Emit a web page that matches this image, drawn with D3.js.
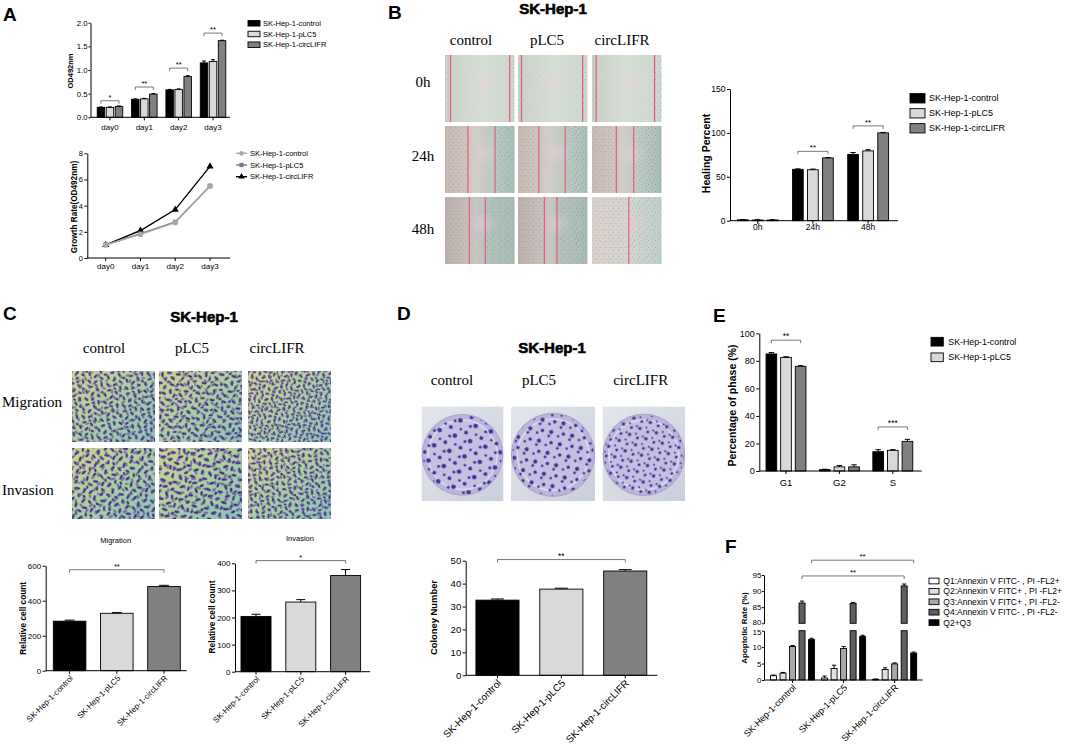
<!DOCTYPE html>
<html><head><meta charset="utf-8">
<script src="https://cdn.jsdelivr.net/npm/d3@7"></script>
<style>
body{margin:0;background:#fff;}
svg{display:block;}
</style></head><body>
<svg id="fig" width="1065" height="746"></svg>
<script>
// ---------------- DATA ----------------
const groups = ["SK-Hep-1-control","SK-Hep-1-pLC5","SK-Hep-1-circLIFR"];
const photoCols = ["control","pLC5","circLIFR"];
const days = ["day0","day1","day2","day3"];
const odControl   = [0.21,0.38,0.58,1.15];
const odPLC5      = [0.21,0.39,0.59,1.18];
const odCircLIFR  = [0.23,0.49,0.86,1.62];
const odErrControl  = [0.01,0.01,0.01,0.04];
const odErrPLC5     = [0.01,0.01,0.01,0.04];
const odErrCircLIFR = [0.01,0.01,0.02,0.01];
const odSig = ["*","**","**","**"];
const odTicks = [0,0.5,1.0,1.5,2.0];
const growthControl  = [1,1.8,2.7,5.5];
const growthPLC5     = [1,1.85,2.75,5.5];
const growthCircLIFR = [1,2.1,3.7,7.0];
const growthTicks = [0,2,4,6,8];
const healTimes = ["0h","24h","48h"];
const healControl  = [1,58.5,75.5];
const healPLC5     = [0.8,58,79.5];
const healCircLIFR = [0.8,71.5,100];
const healErrControl  = [0.3,0.5,2.2];
const healErrPLC5     = [0.3,0.8,1.3];
const healErrCircLIFR = [0.3,0.5,0.5];
const healSig = ["","**","**"];
const healTicks = [0,50,100,150];
const woundRows = ["0h","24h","48h"];
const transwellRows = ["Migration","Invasion"];
const migrationCount = [283,328,481];
const migrationErr   = [6,4,7];
const migrationTicks = [0,200,400,600];
const invasionCount = [204,257,355];
const invasionErr   = [8,9,22];
const invasionTicks = [0,100,200,300,400];
const colonyNumber = [32.8,37.6,45.5];
const colonyErr    = [0.5,0.4,0.6];
const colonyTicks  = [0,10,20,30,40,50];
const phases = ["G1","G2","S"];
const phaseControl  = [85,1,14];
const phasePLC5     = [82.5,3,15];
const phaseCircLIFR = [76,3,21.5];
const phaseErrControl  = [1,0.3,1.5];
const phaseErrPLC5     = [0.5,1,0.5];
const phaseErrCircLIFR = [0.5,1.5,1.5];
const phaseSig = ["**","","***"];
const phaseLegend = ["SK-Hep-1-control","SK-Hep-1-pLC5"];
const phaseTicks = [0,20,40,60,80,100];
const quadrants = ["Q1:Annexin V FITC- , PI -FL2+","Q2:Annexin V FITC+ , PI -FL2+","Q3:Annexin V FITC+ , PI -FL2-","Q4:Annexin V FITC- , PI -FL2-","Q2+Q3"];
const apoControl  = [1.3,2.1,10.2,86.3,12.3];
const apoPLC5     = [0.6,3.5,9.6,86.2,13.2];
const apoCircLIFR = [0.2,3.2,4.9,91.6,8.2];
const apoErrControl  = [0.2,0.2,0.3,0.6,0.4];
const apoErrPLC5     = [0.6,1.0,0.6,0.3,0.4];
const apoErrCircLIFR = [0.1,0.5,0.3,0.6,0.3];
const apoTicksLow = [0,5,10,15];
const apoTicksHigh = [80,85,90,95];

// ---------------- STYLE ----------------
const FONT = '"Liberation Sans", Arial, Helvetica, sans-serif';
const SERIF = '"Liberation Serif", "Times New Roman", serif';
const COL3 = ["#000000","#d9d9d9","#808080"];
const COLQ = ["#ffffff","#e0e0e0","#a8a8a8","#5e5e5e","#000000"];

const svg = d3.select("#fig");
const defs = svg.append("defs");
svg.append("rect").attr("width",1065).attr("height",746).attr("fill","#fff");

function txt(g, x, y, s, o={}) {
  const t = g.append("text").attr("x",x).attr("y",y).text(s)
    .attr("font-size", o.size||9).attr("text-anchor", o.anchor||"start")
    .attr("font-family", o.family||FONT).attr("font-weight", o.weight||"normal")
    .attr("fill", o.fill||"#000");
  if (o.rotate!=null) t.attr("transform",`rotate(${o.rotate},${x},${y})`);
  if (o.baseline) t.attr("dominant-baseline", o.baseline);
  if (o.dy) t.attr("dy", o.dy);
  if (o.stroke) t.attr("stroke","#000").attr("stroke-width",o.stroke);
  return t;
}
function yAxis(g, y, x, ticks, fmt, size, ts, tp) {
  const ax = d3.axisLeft(y).tickValues(ticks).tickFormat(fmt).tickSize(ts==null?3:ts).tickSizeOuter(0).tickPadding(tp==null?1.5:tp);
  const a = g.append("g").attr("transform",`translate(${x},0)`).call(ax);
  a.selectAll("text").attr("font-size",size).attr("font-family",FONT).attr("fill","#000");
  a.selectAll("line,path").attr("stroke","#000").attr("stroke-width",1);
  return a;
}
function xAxis(g, x1, x2, yPos, centers, labels, o) {
  g.append("line").attr("x1",x1).attr("x2",x2).attr("y1",yPos).attr("y2",yPos).attr("stroke","#000").attr("stroke-width",1);
  centers.forEach((c,i)=>{
    g.append("line").attr("x1",c).attr("x2",c).attr("y1",yPos).attr("y2",yPos+3).attr("stroke","#000");
    if (o.rotate) txt(g, c+o.dx, yPos+o.dy, labels[i], {size:o.size, anchor:"end", rotate:-45, dy:"0.35em"});
    else txt(g, c, yPos+o.dy, labels[i], {size:o.size, anchor:"middle"});
  });
}
function yLabel(g, x, y, s, size) {
  txt(g, x, y, s, {size, weight:"bold", anchor:"middle", rotate:-90, baseline:"central"});
}
function bracket(g, xa, xb, yb, label, size) {
  if (!label) return;
  g.append("path").attr("d",`M${xa},${yb+3}V${yb}H${xb}V${yb+3}`)
    .attr("fill","none").attr("stroke","#555").attr("stroke-width",0.8);
  txt(g, (xa+xb)/2, yb-1, label, {size, anchor:"middle"});
}
function bar(g, x, w, yTop, yBot, fill) {
  g.append("rect").attr("x",x).attr("y",yTop).attr("width",w).attr("height",Math.max(0,yBot-yTop))
    .attr("fill",fill).attr("stroke","#000").attr("stroke-width",0.9);
}
function err(g, cx, w, yv, ye) {
  g.append("line").attr("x1",cx).attr("x2",cx).attr("y1",yv).attr("y2",ye).attr("stroke","#000").attr("stroke-width",1);
  g.append("line").attr("x1",cx-w/2).attr("x2",cx+w/2).attr("y1",ye).attr("y2",ye).attr("stroke","#000").attr("stroke-width",1);
}
function grouped(g, cats, vals, errs, colors, x0, x1, y) {
  vals.forEach((series, s) => {
    series.forEach((v,i) => {
      const x = x0(cats[i]) + x1(s), w = x1.bandwidth();
      bar(g, x, w, y(v), y(0), colors[s]);
      err(g, x+w/2, w*0.5, y(v), y(v+errs[s][i]));
    });
  });
}
function simpleBars(g, cats, vals, errs, colors, x, y) {
  vals.forEach((v,i)=>{
    const w = x.bandwidth(), xx = x(cats[i]);
    bar(g, xx, w, y(v), y(0), colors[i]);
    err(g, xx+w/2, w*0.3, y(v), y(v+errs[i]));
  });
}
function legendBoxes(g, x, y0, dy, w, h, labels, colors, size, tx) {
  labels.forEach((l,i)=>{
    const cy = y0 + i*dy;
    g.append("rect").attr("x",x).attr("y",cy-h/2).attr("width",w).attr("height",h)
      .attr("fill",colors[i]).attr("stroke","#000").attr("stroke-width",0.9);
    txt(g, tx, cy, l, {size, baseline:"central"});
  });
}
function panelLetter(x, y, s) { txt(svg, x, y, s, {size:19, weight:"bold"}); }
function title(x, y, s) { txt(svg, x, y, s, {size:15, weight:"bold", anchor:"middle", stroke:0.6}); }

// ---------------- PHOTO TEXTURES ----------------
function pattern(id, w, h, items, fill, op, tf) {
  const p = defs.append("pattern").attr("id",id).attr("width",w).attr("height",h).attr("patternUnits","userSpaceOnUse");
  if (tf) p.attr("patternTransform", tf);
  items.forEach(([cx,cy,rx,ry,a])=>{
    p.append("ellipse").attr("cx",cx).attr("cy",cy).attr("rx",rx).attr("ry",ry)
      .attr("transform",`rotate(${a||0},${cx},${cy})`).attr("fill",fill).attr("opacity",op);
  });
}
pattern("speck", 7, 7, [[1,1,0.6,0.6],[4.5,2.5,0.5,0.5],[2.5,5,0.7,0.6],[6,6,0.4,0.4]], "#5f7266", 0.8);
pattern("speck2", 5, 6, [[1,1.5,0.7,0.6],[3.5,4,0.6,0.6],[4,1,0.4,0.4]], "#6d6f8a", 0.8);
const cellItems = [[3,3,2.4,1.1,30],[9,2,2,1,-40],[15,4,2.5,1.1,70],[5,8,2.2,1,-20],[12,9,2.4,1.1,45],[17,11,2,1,0],[2,13,2.2,1.1,60],[8,14,2.5,1.1,-60],[14,15,2,1,20],[10,5.5,1.6,0.9,10]];
const cellItems2 = [[2,6,2,0.9,-30],[8,3,2.2,1,50],[12,9,2,1,10],[5,11,2.2,1,80],[13,1.5,1.6,0.8,-70]];
[["cellsA","rotate(10) scale(1.05)"],["cellsB","rotate(-25) scale(1.1)"],["cellsC","rotate(40) scale(0.9)"],
 ["cellsD","rotate(70) scale(1.15)"],["cellsE","rotate(-50) scale(1.2)"],["cellsF","rotate(15) scale(1.0)"]].forEach(([id,tf])=>{
  pattern(id, 18, 17, cellItems, "#3e2488", 0.95, tf);
  pattern(id+"2", 15, 13, cellItems2, "#6b3aa8", 0.9, tf);
});
const dotItems = [[2,3,1.4,1.4],[7,8,1.7,1.7],[9.5,2,1.0,1.0],[3.5,9.5,1.1,1.1]];
[["dotsA","scale(1.35) rotate(20)"],["dotsB","scale(1.25) rotate(-35)"],["dotsC","scale(1.0) rotate(60)"]].forEach(([id,tf])=>{
  pattern(id, 12, 12, dotItems, "#2f2f92", 0.95, tf);
});
function lingrad(id, stops, x2, y2) {
  const gr = defs.append("linearGradient").attr("id",id).attr("x1",0).attr("y1",0).attr("x2",x2==null?1:x2).attr("y2",y2||0);
  stops.forEach(([o,c])=>gr.append("stop").attr("offset",o).attr("stop-color",c));
}
lingrad("wg0", [[0,"#c9d1c8"],[0.5,"#d6ddd4"],[1,"#cdd8d1"]]);
lingrad("wg1", [[0,"#c9bab2"],[0.45,"#d2cdc8"],[0.7,"#bccac4"],[1,"#a9bdb8"]]);
lingrad("wg2", [[0,"#bfb0ab"],[0.45,"#c9c6c2"],[0.6,"#b4c2bd"],[1,"#a7bbb5"]]);
lingrad("wg3", [[0,"#ddd2cd"],[0.5,"#d6d6d2"],[1,"#bdd0cb"]]);
lingrad("twg", [[0,"#cdd58e"],[0.5,"#a8d0a0"],[1,"#8ac6b2"]], 1, 1);
lingrad("plate", [[0,"#e3e6ec"],[1,"#c9cfdb"]], 1, 1);
const glow = defs.append("radialGradient").attr("id","glow");
glow.append("stop").attr("offset",0).attr("stop-color","#e9cfe0").attr("stop-opacity",0.45);
glow.append("stop").attr("offset",1).attr("stop-color","#e9cfe0").attr("stop-opacity",0);

function woundPhoto(x, y, w, h, lines, grad) {
  const g = svg.append("g");
  g.append("rect").attr("x",x).attr("y",y).attr("width",w).attr("height",h).attr("fill",`url(#${grad})`);
  g.append("rect").attr("x",x).attr("y",y).attr("width",w).attr("height",h).attr("fill","url(#speck)").attr("opacity",0.15);
  const a = x + lines[0]*w, b = x + lines[lines.length-1]*w;
  g.append("rect").attr("x",x).attr("y",y).attr("width",a-x).attr("height",h).attr("fill","url(#speck2)").attr("opacity",0.45);
  g.append("rect").attr("x",b).attr("y",y).attr("width",x+w-b).attr("height",h).attr("fill","url(#speck)").attr("opacity",lines.length>1?0.55:0.4);
  g.append("ellipse").attr("cx",x+w*0.55).attr("cy",y+h*0.4).attr("rx",w*0.22).attr("ry",h*0.2).attr("fill","url(#glow)");
  lines.forEach(f=>g.append("line").attr("x1",x+f*w).attr("x2",x+f*w).attr("y1",y).attr("y2",y+h).attr("stroke","#ec5a73").attr("stroke-width",1.2));
}
function transwellPhoto(x, y, w, h, pid, dense) {
  const g = svg.append("g");
  g.append("rect").attr("x",x).attr("y",y).attr("width",w).attr("height",h).attr("fill","url(#twg)");
  g.append("rect").attr("x",x).attr("y",y).attr("width",w).attr("height",h).attr("fill",`url(#${pid})`);
  g.append("rect").attr("x",x).attr("y",y).attr("width",w).attr("height",h).attr("fill",`url(#${pid}2)`).attr("opacity",dense?1:0.8);
}
function colonyPhoto(x, y, w, h, pid) {
  const g = svg.append("g");
  g.append("rect").attr("x",x).attr("y",y).attr("width",w).attr("height",h).attr("fill","url(#plate)");
  const cx = x+w/2, cy = y+h/2+1, r = Math.min(w,h)/2*0.99;
  g.append("circle").attr("cx",cx).attr("cy",cy).attr("r",r).attr("fill","#bcb4d9").attr("stroke","#a9a3cc").attr("stroke-width",1);
  g.append("circle").attr("cx",cx).attr("cy",cy).attr("r",r*0.86).attr("fill","#c6bfe0").attr("stroke","#dcd8ee").attr("stroke-width",1.5);
  g.append("circle").attr("cx",cx).attr("cy",cy).attr("r",r*0.98).attr("fill",`url(#${pid})`);
}

// ================= PANEL A =================
panelLetter(3, 21, "A");
{
  const g = svg.append("g");
  const y = d3.scaleLinear([0,2],[117.3,22.7]);
  const x0 = d3.scaleBand(days,[92.8,230.2]);
  const x1 = d3.scaleBand([0,1,2],[0,x0.bandwidth()]).paddingInner(0.17).paddingOuter(0.49);
  grouped(g, days, [odControl,odPLC5,odCircLIFR], [odErrControl,odErrPLC5,odErrCircLIFR], COL3, x0, x1, y);
  yAxis(g, y, 90.5, odTicks, d3.format(".1f"), 7.8, 2, 0.8);
  xAxis(g, 90.5, 230, 117.3, days.map(d=>x0(d)+x0.bandwidth()/2), days, {size:8, dy:12.7});
  const lv = [0.35,0.64,1.04,1.78];
  days.forEach((d,i)=>bracket(g, x0(d)+x1(0)+x1.bandwidth()/2, x0(d)+x1(2)+x1.bandwidth()/2, y(lv[i]), odSig[i], 7.5));
  yLabel(g, 70.5, 71, "OD492nm", 7.5);
  legendBoxes(g, 248, 23.3, 10.7, 12, 5.5, groups, COL3, 7.5, 263);
}
{
  const g = svg.append("g");
  const y = d3.scaleLinear([0,8],[258,153.3]);
  const x = d3.scalePoint(days,[105.7,210]);
  yAxis(g, y, 87.3, growthTicks, d3.format("d"), 7.5);
  xAxis(g, 87.3, 230, 258, days.map(d=>x(d)), days, {size:8, dy:11.3});
  const series = [
    {v:growthCircLIFR, c:"#000", s:d3.symbolTriangle},
    {v:growthPLC5, c:"#7a7a7a", s:d3.symbolSquare},
    {v:growthControl, c:"#a8a8a8", s:d3.symbolCircle}];
  series.forEach(sr=>{
    g.append("path").datum(sr.v).attr("fill","none").attr("stroke",sr.c).attr("stroke-width",1.4)
      .attr("d", d3.line().x((d,i)=>x(days[i])).y(d=>y(d)));
    sr.v.forEach((d,i)=>g.append("path").attr("d", d3.symbol().type(sr.s).size(22)())
      .attr("transform",`translate(${x(days[i])},${y(d)})`).attr("fill",sr.c));
  });
  yLabel(g, 74.5, 207, "Growth Rate(OD492nm)", 8.2);
  const leg = [{c:"#a8a8a8",s:d3.symbolCircle},{c:"#7a7a7a",s:d3.symbolSquare},{c:"#000",s:d3.symbolTriangle}];
  groups.forEach((l,i)=>{
    const cy = 153.3 + i*11.7;
    g.append("line").attr("x1",236).attr("x2",247).attr("y1",cy).attr("y2",cy).attr("stroke",leg[i].c).attr("stroke-width",1.4);
    g.append("path").attr("d", d3.symbol().type(leg[i].s).size(18)()).attr("transform",`translate(241.5,${cy})`).attr("fill",leg[i].c);
    txt(g, 250, cy, l, {size:7.5, baseline:"central"});
  });
}

// ================= PANEL B =================
panelLetter(388, 19, "B");
title(553, 14, "SK-Hep-1");
{
  const colX = [445,518,592], rowY = [55,126,197], pw = 69.5, ph = 67;
  const colLabX = [471,547,622];
  photoCols.forEach((c,i)=>txt(svg, colLabX[i], 45, c, {size:15, family:SERIF, anchor:"middle"}));
  woundRows.forEach((r,j)=>txt(svg, 423, [87.3,160.7,234][j], r, {size:15, family:SERIF, anchor:"middle"}));
  const lineSets = [[[0.08,0.93],[0.05,0.93],[0.06,0.9]],[[0.33,0.72],[0.3,0.68],[0.35,0.6]],[[0.35,0.58],[0.38,0.56],[0.53]]];
  const grads = [["wg0","wg0","wg0"],["wg1","wg1","wg1"],["wg2","wg2","wg3"]];
  rowY.forEach((yy,j)=>colX.forEach((xx,i)=>woundPhoto(xx, yy, pw, ph, lineSets[j][i], grads[j][i])));
}
{
  const g = svg.append("g");
  const y = d3.scaleLinear([0,150],[220.7,89]);
  const x0 = d3.scaleBand(healTimes,[730.1,895.7]);
  const x1 = d3.scaleBand([0,1,2],[0,x0.bandwidth()]).paddingInner(0.287).paddingOuter(0.48);
  grouped(g, healTimes, [healControl,healPLC5,healCircLIFR], [healErrControl,healErrPLC5,healErrCircLIFR], COL3, x0, x1, y);
  yAxis(g, y, 730, healTicks, d3.format("d"), 8.5);
  xAxis(g, 730, 898, 220.7, healTimes.map(d=>x0(d)+x0.bandwidth()/2), healTimes, {size:8.5, dy:9});
  const lv = [0,79,108];
  healTimes.forEach((d,i)=>bracket(g, x0(d)+x1(0)+x1.bandwidth()/2, x0(d)+x1(2)+x1.bandwidth()/2, y(lv[i]), healSig[i], 8));
  yLabel(g, 706, 153.5, "Healing Percent", 10.5);
  legendBoxes(g, 910, 98.3, 15, 15, 9.3, groups, COL3, 9, 929);
}

// ================= PANEL C =================
panelLetter(3, 320, "C");
title(204, 322, "SK-Hep-1");
{
  const colX = [72,159,248], rowY = [371,448], pw = 83, ph = 71;
  [104,192,277].forEach((cx,i)=>txt(svg, cx, 353.3, photoCols[i], {size:15, family:SERIF, anchor:"middle"}));
  transwellRows.forEach((r,j)=>txt(svg, 2, [406.7,495][j], r, {size:15, family:SERIF}));
  const pids = [["cellsA","cellsB","cellsC"],["cellsD","cellsE","cellsF"]];
  rowY.forEach((yy,j)=>colX.forEach((xx,i)=>transwellPhoto(xx, yy, pw, ph, pids[j][i], j===0 && i===2)));
}
{
  const g = svg.append("g");
  const y = d3.scaleLinear([0,600],[670.7,565.7]);
  const x = d3.scaleBand(groups,[46,187.6]).paddingInner(0.31).paddingOuter(0.155);
  simpleBars(g, groups, migrationCount, migrationErr, COL3, x, y);
  yAxis(g, y, 45.7, migrationTicks, d3.format("d"), 8);
  xAxis(g, 45.7, 186.7, 670.7, groups.map(d=>x(d)+x.bandwidth()/2), groups, {size:8, rotate:true, dx:2, dy:6});
  bracket(g, x(groups[0])+x.bandwidth()/2, x(groups[2])+x.bandwidth()/2, y(577), "**", 7.5);
  txt(g, 115.7, 543, "Migration", {size:7.5, anchor:"middle"});
  yLabel(g, 23.3, 618.3, "Relative cell count", 8.3);
}
{
  const g = svg.append("g");
  const y = d3.scaleLinear([0,400],[671.7,563.3]);
  const x = d3.scaleBand(groups,[233.6,368]).paddingInner(0.33).paddingOuter(0.165);
  simpleBars(g, groups, invasionCount, invasionErr, COL3, x, y);
  yAxis(g, y, 235, invasionTicks, d3.format("d"), 8);
  xAxis(g, 235, 370, 671.7, groups.map(d=>x(d)+x.bandwidth()/2), groups, {size:8, rotate:true, dx:2, dy:6});
  bracket(g, x(groups[0])+x.bandwidth()/2, x(groups[2])+x.bandwidth()/2, y(410), "*", 7.5);
  txt(g, 300, 541, "Invasion", {size:7.5, anchor:"middle"});
  yLabel(g, 212, 617, "Relative cell count", 8.3);
}

// ================= PANEL D =================
panelLetter(397, 320, "D");
title(552, 353, "SK-Hep-1");
{
  [452,539,640.7].forEach((cx,i)=>txt(svg, cx, 385, photoCols[i], {size:15, family:SERIF, anchor:"middle"}));
  const colX = [421.7,511,602.7], pids = ["dotsA","dotsB","dotsC"];
  colX.forEach((xx,i)=>colonyPhoto(xx, 406.7, [81.6,84,82.3][i], 94.3, pids[i]));
}
{
  const g = svg.append("g");
  const y = d3.scaleLinear([0,50],[675.3,560.7]);
  const x = d3.scaleBand(groups,[465.7,657]).paddingInner(0.325).paddingOuter(0.16);
  simpleBars(g, groups, colonyNumber, colonyErr, COL3, x, y);
  yAxis(g, y, 465.7, colonyTicks, d3.format("d"), 9.5);
  xAxis(g, 465.7, 657.3, 675.3, groups.map(d=>x(d)+x.bandwidth()/2), groups, {size:10, rotate:true, dx:2, dy:6});
  bracket(g, x(groups[0])+x.bandwidth()/2, x(groups[2])+x.bandwidth()/2, y(50.5), "**", 8.5);
  yLabel(g, 433.5, 617.5, "Coloney Number", 9.4);
}

// ================= PANEL E =================
panelLetter(713, 322, "E");
{
  const g = svg.append("g");
  const y = d3.scaleLinear([0,100],[471,333.3]);
  const x0 = d3.scaleBand(phases,[759.3,919.5]);
  const x1 = d3.scaleBand([0,1,2],[0,x0.bandwidth()]).paddingInner(0.27).paddingOuter(0.46);
  grouped(g, phases, [phaseControl,phasePLC5,phaseCircLIFR], [phaseErrControl,phaseErrPLC5,phaseErrCircLIFR], COL3, x0, x1, y);
  yAxis(g, y, 759.3, phaseTicks, d3.format("d"), 9);
  xAxis(g, 759.3, 921.7, 471, phases.map(d=>x0(d)+x0.bandwidth()/2), phases, {size:9.5, dy:14.5});
  const lv = [95,0,32];
  phases.forEach((d,i)=>bracket(g, x0(d)+x1(0)+x1.bandwidth()/2, x0(d)+x1(2)+x1.bandwidth()/2, y(lv[i]), phaseSig[i], 8.5));
  yLabel(g, 731.5, 405.5, "Percentage of phase (%)", 10.5);
  legendBoxes(g, 931, 341.7, 15.6, 12.3, 8.7, phaseLegend, COL3, 8.8, 948.3);
}

// ================= PANEL F =================
panelLetter(725, 553, "F");
{
  const g = svg.append("g");
  const yL = d3.scaleLinear([0,15],[680,630.7]);
  const yU = d3.scaleLinear([80,95],[623.3,575]);
  const x0 = d3.scaleBand(groups,[767,920.2]);
  const x1 = d3.scaleBand(d3.range(5),[0,x0.bandwidth()]).paddingInner(0.37).paddingOuter(0.37);
  const data = [apoControl, apoPLC5, apoCircLIFR], errs = [apoErrControl, apoErrPLC5, apoErrCircLIFR];
  groups.forEach((grp,gi)=>{
    data[gi].forEach((v,q)=>{
      const xx = x0(grp)+x1(q), w = x1.bandwidth();
      if (v > 15) {
        bar(g, xx, w, yL(15), yL(0), COLQ[q]);
        bar(g, xx, w, yU(v), yU(80), COLQ[q]);
        err(g, xx+w/2, w*0.7, yU(v), yU(v+errs[gi][q]));
      } else {
        bar(g, xx, w, yL(v), yL(0), COLQ[q]);
        err(g, xx+w/2, w*0.7, yL(v), yL(v+errs[gi][q]));
      }
    });
  });
  const aL = yAxis(g, yL, 764, apoTicksLow, d3.format("d"), 8, 2, 0.5);
  const aU = yAxis(g, yU, 764, apoTicksHigh, d3.format("d"), 8, 2, 0.5);
  aL.selectAll(".tick").filter(d=>d===15).select("text").attr("dy","0.5em");
  aU.selectAll(".tick").filter(d=>d===80).select("text").attr("dy","0.15em");
  xAxis(g, 764, 922.7, 680, groups.map(d=>x0(d)+x0.bandwidth()/2), groups, {size:9, rotate:true, dx:2, dy:6});
  const cq = (grp,q)=>x0(grp)+x1(q)+x1.bandwidth()/2;
  bracket(g, cq(groups[0],3), cq(groups[2],3), yU(94.7), "**", 8);
  bracket(g, cq(groups[0],4), cq(groups[2],4), yU(99.6), "**", 8);
  yLabel(g, 744, 628, "Apoptotic Rate (%)", 8);
  legendBoxes(g, 929, 581, 10.4, 10, 5.7, quadrants, COLQ, 8.5, 943.3);
}
</script>
</body></html>
